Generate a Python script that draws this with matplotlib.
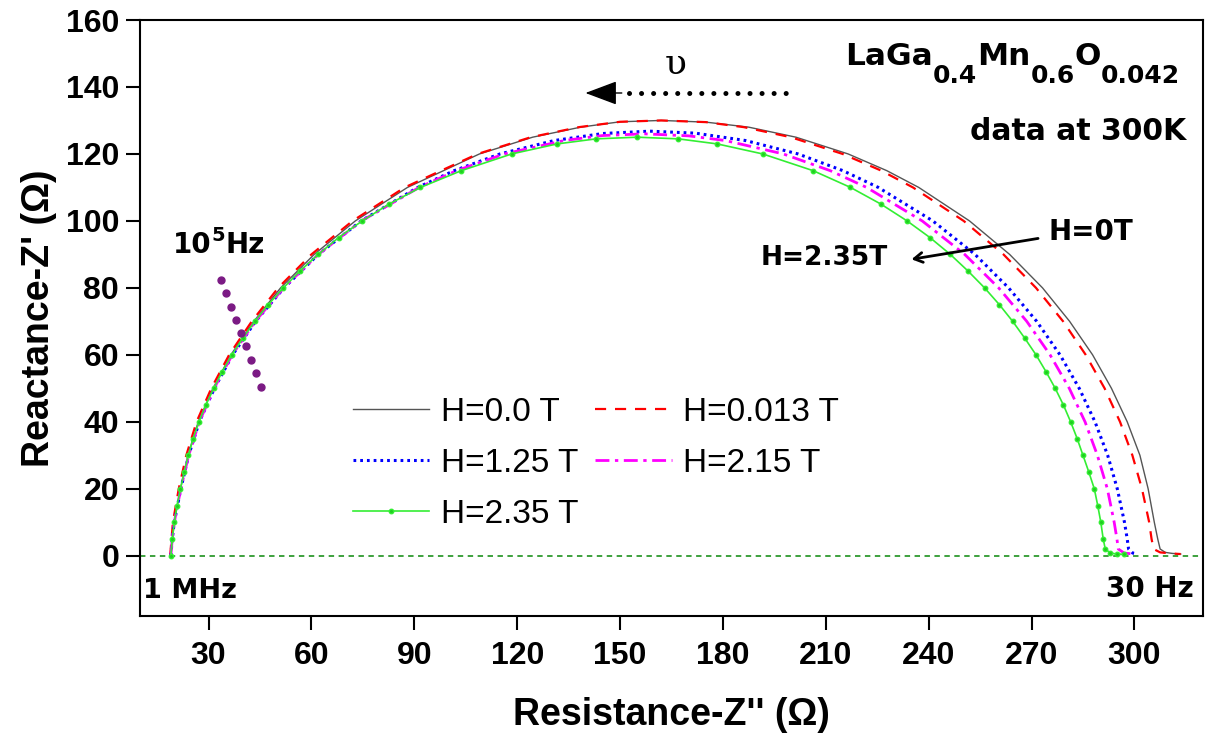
import matplotlib
matplotlib.use('Agg')
import matplotlib.pyplot as plt
from matplotlib.transforms import IdentityTransform

plt.rcParams['font.family'] = ['Liberation Sans', 'DejaVu Sans']

################################################################################
# Cole-Cole data (Z'' , Z') for each field
################################################################################
h0_x = [19.0, 19.5, 20.0, 21.8, 24.0, 27.0, 31.3, 36.5, 43.2, 51.0,
        60.8, 72.8, 88.0, 98.5, 109.0, 124.5, 138.5, 150, 162, 175,
        187.5, 201.3, 216.5, 227.8, 237.1, 251.9, 263.6, 273.2, 281.1, 287.8,
        293.3, 297.9, 301.6, 304.0, 305.8, 306.8, 307.5, 309.0, 311.0, 313.5]
h0_y = [0, 5, 10, 20, 30, 40, 50, 60, 70, 80,
        90, 100, 110, 115, 120, 125, 128, 129.6, 130, 129.5,
        128, 125, 120, 115, 110, 100, 90, 80, 70, 60,
        50, 40, 30, 20, 10, 5, 2, 1.0, 0.7, 0.5]

h0013_x = [18.8, 19.2, 19.6, 21.3, 23.5, 26.5, 30.8, 36.0, 42.6, 50.3,
           60.0, 72.0, 87.2, 97.8, 108.5, 124.0, 138.0, 150, 162, 175,
           186.1, 199.8, 214.9, 226.2, 235.4, 250.2, 261.8, 271.3, 279.2, 285.8,
           291.3, 295.8, 299.4, 302.2, 304.3, 305.0, 305.6, 307.5, 310.5, 313.5]
h0013_y = [0, 5, 10, 20, 30, 40, 50, 60, 70, 80,
           90, 100, 110, 115, 120, 125, 128, 129.6, 130, 129.5,
           128, 125, 120, 115, 110, 100, 90, 80, 70, 60,
           50, 40, 30, 20, 10, 5, 2, 1.0, 0.7, 0.5]

h125_x = [19.0, 19.4, 20.0, 21.9, 24.2, 27.3, 31.7, 37.0, 43.7, 52.0,
          62.0, 74.5, 91.0, 101.6, 115.0, 130.8, 145, 158.7, 172, 186.6,
          201.9, 215.0, 225.3, 241.2, 253.5, 263.3, 271.5, 278.3, 283.9, 288.5,
          292.2, 295.0, 297.1, 297.9, 298.3, 299.5, 301.0]
h125_y = [0, 5, 10, 20, 30, 40, 50, 60, 70, 80,
          90, 100, 110, 115, 120, 124, 126.1, 126.8, 126.2, 124,
          120, 115, 110, 100, 90, 80, 70, 60, 50, 40,
          30, 20, 10, 5, 2, 0.8, 0.5]

h215_x = [19.0, 19.4, 20.0, 21.9, 24.2, 27.3, 31.6, 36.9, 43.6, 51.9,
          62.0, 74.6, 91.4, 102.3, 116.3, 133.7, 145, 157.2, 170, 180.7,
          197.6, 211.3, 221.9, 238.1, 250.5, 260.4, 268.6, 275.4, 281.0, 285.6,
          289.2, 292.1, 294.1, 294.9, 295.3, 297.0, 300.0]
h215_y = [0, 5, 10, 20, 30, 40, 50, 60, 70, 80,
          90, 100, 110, 115, 120, 124, 125.5, 126, 125.4, 124,
          120, 115, 110, 100, 90, 80, 70, 60, 50, 40,
          30, 20, 10, 5, 2, 0.8, 0.5]

h235_x = [19.0, 19.4, 20.0, 20.8, 21.8, 22.9, 24.1, 25.5, 27.2, 29.2,
          31.5, 34.0, 36.8, 40.0, 43.5, 47.4, 51.8, 56.6, 62.0, 67.9,
          74.8, 82.6, 91.8, 103.7, 118.4, 131.7, 143, 155, 167, 178.3,
          191.6, 206.3, 217.2, 226.1, 233.7, 240.4, 246.3, 251.5, 256.3, 260.6,
          264.5, 268.0, 271.3, 274.2, 276.9, 279.3, 281.4, 283.3, 285.0, 286.7,
          288.3, 289.3, 290.2, 290.9, 291.5, 293.0, 295.0, 297.0]
h235_y = [0, 5, 10, 15, 20, 25, 30, 35, 40, 45,
          50, 55, 60, 65, 70, 75, 80, 85, 90, 95,
          100, 105, 110, 115, 120, 123, 124.5, 125, 124.5, 123,
          120, 115, 110, 105, 100, 95, 90, 85, 80, 75,
          70, 65, 60, 55, 50, 45, 40, 35, 30, 25,
          20, 15, 10, 5, 2, 0.8, 0.5, 0.4]

# 10^5 Hz marker dots
freq_x = [33.6, 35.1, 36.5, 38.1, 39.5, 41.0, 42.4, 43.9, 45.3]
freq_y = [82.4, 78.6, 74.4, 70.4, 66.5, 62.5, 58.5, 54.5, 50.5]

################################################################################
fig = plt.figure(figsize=(12.08, 7.35), dpi=100)
ax = fig.add_axes([140/1208, 119/735, 1063/1208, 596/735])

ax.axhline(0, color='#2e9a2e', lw=1.3, ls=(0, (3, 2.5)), zorder=1)

l0, = ax.plot(h0_x, h0_y, color='#555555', lw=1.0, label='H=0.0 T', zorder=3)
l1, = ax.plot(h0013_x, h0013_y, color='red', lw=1.6, dashes=(5, 4), label='H=0.013 T', zorder=3)
l2, = ax.plot(h125_x, h125_y, color='blue', lw=2.2, dashes=(0.9, 1.3), label='H=1.25 T', zorder=3)
l3, = ax.plot(h215_x, h215_y, color='magenta', lw=2.0, dashes=(5, 2, 1.2, 2),
              label='H=2.15 T', zorder=3)
l4, = ax.plot(h235_x, h235_y, color='#33ee33', lw=1.2, marker='o', ms=3.2,
              mfc='#22cc22', mec='#33ee33', label='H=2.35 T', zorder=3)

ax.plot(freq_x, freq_y, ls='none', marker='o', ms=5, color='#7b1a84', zorder=4)

ax.set_xlim(10, 320)
ax.set_ylim(-18, 160)
ax.set_xticks(range(30, 301, 30))
ax.set_yticks(range(0, 161, 20))
ax.tick_params(direction='out', length=10, width=1.5, labelsize=23, pad=5)
ax.tick_params(axis='x', pad=8)
for lab in ax.get_xticklabels() + ax.get_yticklabels():
    lab.set_fontweight('bold')
for sp in ax.spines.values():
    sp.set_linewidth(1.5)

ax.set_xlabel("Resistance-Z'' (\u03a9)", fontsize=27, fontweight='bold', labelpad=19)
ax.set_ylabel("Reactance-Z' (\u03a9)", fontsize=27, fontweight='bold', labelpad=6)

ax.legend(handles=[l0, l2, l4, l1, l3], ncol=2, frameon=False, fontsize=24,
          loc='upper left', bbox_to_anchor=(0.200, 0.368), borderpad=0,
          borderaxespad=0, handlelength=2.3, handletextpad=0.35,
          columnspacing=0.5, labelspacing=0.6)

################################################################################
# annotations
bold = dict(fontweight='bold', family='DejaVu Sans')
renderer = fig.canvas.get_renderer()


def draw_pieces(x, y, pieces):
    # pieces of text placed one after another, in pixels (y from the top)
    for s, size, dy in pieces:
        t = fig.text(x, 735 - y - dy, s, fontsize=size, ha='left', va='baseline',
                     transform=IdentityTransform(), **bold)
        x += t.get_window_extent(renderer).width


draw_pieces(845, 65, [('LaGa', 22.5, 0), ('0.4', 18, 18), ('Mn', 22.5, 0),
                      ('0.6', 18, 18), ('O', 22.5, 0), ('0.042', 18, 18)])
draw_pieces(173, 253, [('10', 20, 0), ('5', 14, -12), ('Hz', 20, 0)])

ax.text(315.0, 124.2, 'data at 300K', ha='right', va='baseline', fontsize=21.5, **bold)
ax.text(10.9, -12.5, '1 MHz', ha='left', va='baseline', fontsize=19.5, **bold)
ax.text(317.4, -12.2, '30 Hz', ha='right', va='baseline', fontsize=20, **bold)
ax.text(287.3, 96.7, 'H=0T', ha='center', va='center', fontsize=20, **bold)
ax.text(209.5, 89.0, 'H=2.35T', ha='center', va='center', fontsize=19, **bold)
ax.annotate('', xy=(234.2, 88.4), xytext=(272.7, 94.9),
            arrowprops=dict(arrowstyle='->,head_length=0.6,head_width=0.35', lw=2, color='black'))

# frequency direction arrow
ax.text(166.2, 146.9, '\u03c5', ha='center', va='center', fontsize=26, family='DejaVu Serif')
ax.plot([152.5, 198.3], [138.2, 138.2], color='black', lw=3.6, ls=(0, (0.01, 2.4)),
        dash_capstyle='round')
ax.annotate('', xy=(139.9, 138.2), xytext=(150.5, 138.2),
            arrowprops=dict(arrowstyle='-|>,head_length=2.0,head_width=0.75', lw=1,
                            color='black', shrinkA=0, shrinkB=0))

fig.savefig('out.png', dpi=100)
